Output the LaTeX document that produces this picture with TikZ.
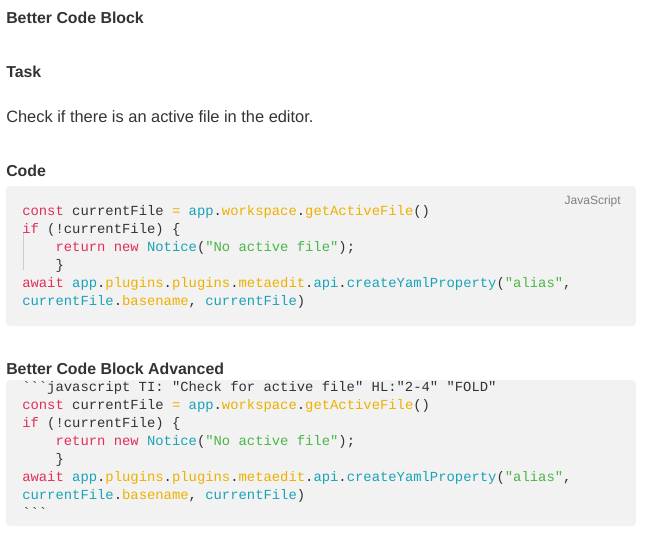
\documentclass[tikz,border=0pt]{standalone}
\usepackage{fontspec}
\setmainfont{Liberation Sans}
\newfontfamily\codefont{Liberation Mono}
\definecolor{kwcol}{HTML}{E0305A}
\definecolor{fncol}{HTML}{1AA3B8}
\definecolor{prcol}{HTML}{EDB100}
\definecolor{stcol}{HTML}{4CB648}
\definecolor{txcol}{HTML}{333333}
\definecolor{boxcol}{HTML}{F2F2F2}
\def\kw#1{{\color{kwcol}#1}}
\def\fn#1{{\color{fncol}#1}}
\def\pr#1{{\color{prcol}#1}}
\def\st#1{{\color{stcol}#1}}
\def\ticks{\symbol{96}\symbol{96}\symbol{96}}
\def\ind{\hspace*{4\fontcharwd\font`0}}

\begin{document}
\begin{tikzpicture}[x=0.75pt,y=-0.75pt,
    heading/.style={anchor=base west,inner sep=0pt,font=\fontsize{11.9}{13}\selectfont\bfseries,text=txcol},
    body/.style={anchor=base west,inner sep=0pt,font=\fontsize{12.3}{14}\selectfont,text=txcol},
    codeline/.style={anchor=base west,inner sep=0pt,font=\codefont\fontsize{10.4}{12}\selectfont,text=txcol}]
    \useasboundingbox (0,0) rectangle (671,540);

    % headings and text
    \node (title) [heading] at (6,23) {Better Code Block};
    \node (task) [heading] at (6,77) {Task};
    \node (check) [body] at (6,122) {Check if there is an active file in the editor.};
    \node (code) [heading] at (6,176) {Code};
    \node (adv) [heading] at (6,374) {Better Code Block Advanced};

    % first code block
    \fill[boxcol,rounded corners=3pt] (6,186) rectangle (636,326);
    \node (lang) [anchor=base east,inner sep=0pt,font=\fontsize{9}{11}\selectfont,text=gray] at (621,204) {JavaScript};
    \draw[gray!40] (23,232) -- (23,270);
    \node (a1) [codeline] at (22,215) {\kw{const} currentFile \pr{=} \fn{app}.\pr{workspace}.\pr{getActiveFile}()};
    \node (a2) [codeline] at (22,233) {\kw{if} (!currentFile) \{};
    \node (a3) [codeline] at (22,251) {\ind\kw{return} \kw{new} \fn{Notice}(\st{"No active file"});};
    \node (a4) [codeline] at (22,269) {\ind\}};
    \node (a5) [codeline] at (22,287) {\kw{await} \fn{app}.\pr{plugins}.\pr{plugins}.\pr{metaedit}.\fn{api}.\fn{createYamlProperty}(\st{"alias"},};
    \node (a6) [codeline] at (22,305) {\fn{currentFile}.\pr{basename}, \fn{currentFile})};

    % second code block
    \fill[boxcol,rounded corners=3pt] (6,380) rectangle (636,526);
    \node (b1) [codeline] at (22,391) {\ticks javascript TI: "Check for active file" HL:"2-4" "FOLD"};
    \node (b2) [codeline] at (22,409) {\kw{const} currentFile \pr{=} \fn{app}.\pr{workspace}.\pr{getActiveFile}()};
    \node (b3) [codeline] at (22,427) {\kw{if} (!currentFile) \{};
    \node (b4) [codeline] at (22,445) {\ind\kw{return} \kw{new} \fn{Notice}(\st{"No active file"});};
    \node (b5) [codeline] at (22,463) {\ind\}};
    \node (b6) [codeline] at (22,481) {\kw{await} \fn{app}.\pr{plugins}.\pr{plugins}.\pr{metaedit}.\fn{api}.\fn{createYamlProperty}(\st{"alias"},};
    \node (b7) [codeline] at (22,499) {\fn{currentFile}.\pr{basename}, \fn{currentFile})};
    \node (b8) [codeline] at (22,517) {\ticks};
\end{tikzpicture}
\end{document}
